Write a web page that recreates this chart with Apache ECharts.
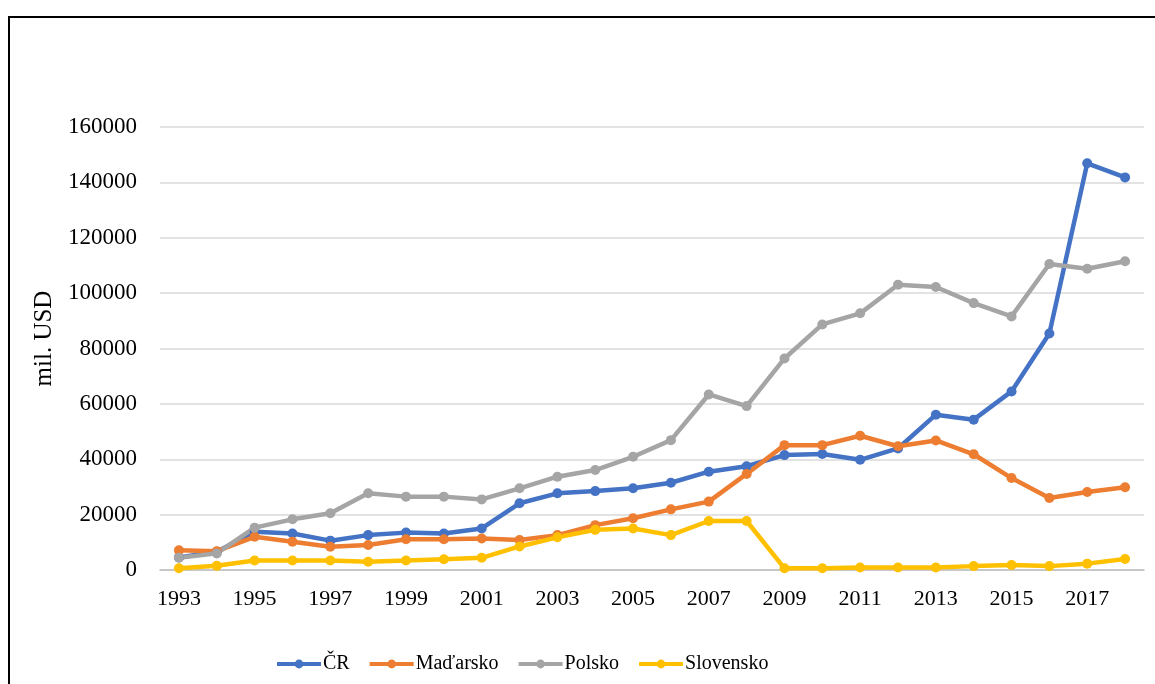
<!DOCTYPE html>
<html>
<head>
<meta charset="utf-8">
<script src="https://cdn.jsdelivr.net/npm/echarts@6/dist/echarts.min.js"></script>
<style>
  html, body { margin: 0; padding: 0; background: #fff; overflow: hidden; }
  .frame { position: absolute; left: 8px; top: 16px; width: 1300px; height: 800px; border: 2px solid #000; box-sizing: border-box; }
  #chart { position: absolute; left: 0; top: 0; width: 1155px; height: 684px; }
</style>
</head>
<body>
<div class="frame"></div>
<div id="chart"></div>
<script>
var years = ['1993','1994','1995','1996','1997','1998','1999','2000','2001','2002','2003','2004','2005',
  '2006','2007','2008','2009','2010','2011','2012','2013','2014','2015','2016','2017','2018'];
var cr = [4500, 6600, 13800, 13200, 10600, 12600, 13500, 13200, 15000, 24100, 27700, 28500, 29500,
  31500, 35500, 37500, 41500, 41900, 39800, 43900, 56100, 54300, 64500, 85400, 146900, 141800];
var madarsko = [7100, 6800, 12000, 10200, 8400, 9000, 11100, 11100, 11400, 10800, 12600, 16200, 18700,
  21900, 24700, 34700, 45100, 45100, 48500, 44700, 46800, 41800, 33200, 26000, 28200, 29900];
var polsko = [4400, 6000, 15300, 18300, 20500, 27700, 26500, 26500, 25500, 29500, 33700, 36100, 40900,
  46900, 63400, 59200, 76400, 88700, 92700, 103000, 102200, 96400, 91600, 110500, 108800, 111500];
var slovensko = [600, 1500, 3400, 3400, 3400, 3000, 3400, 3900, 4400, 8500, 11800, 14500, 15000,
  12600, 17700, 17700, 600, 600, 900, 900, 900, 1400, 1800, 1400, 2300, 4000];

var font = '"Liberation Serif", "DejaVu Serif", serif';

function mkSeries(name, data, color) {
  return {
    name: name,
    type: 'line',
    data: data,
    symbol: 'circle',
    symbolSize: 10,
    itemStyle: { color: color },
    lineStyle: { color: color, width: 4.5 },
    emphasis: { disabled: true }
  };
}

var chart = echarts.init(document.getElementById('chart'));
var option = {
  animation: false,
  grid: { left: 160, right: 11, top: 127, bottom: 114 },
  legend: {
    left: 275,
    top: 654,
    padding: 0,
    itemWidth: 44,
    itemHeight: 11,
    itemGap: 18,
    lineStyle: { width: 4 },
    textStyle: { fontFamily: font, fontSize: 20, color: '#000', padding: [0, 0, 0, -3] },
    data: ['ČR', 'Maďarsko', 'Polsko', 'Slovensko']
  },
  xAxis: {
    type: 'category',
    data: years,
    boundaryGap: true,
    axisTick: { show: false },
    axisLine: { lineStyle: { color: '#bfbfbf', width: 1.5 } },
    axisLabel: { interval: 1, margin: 18, fontFamily: font, fontSize: 22, color: '#000' }
  },
  yAxis: {
    type: 'value',
    min: 0,
    max: 160000,
    interval: 20000,
    name: 'mil. USD',
    nameLocation: 'middle',
    nameRotate: 90,
    nameGap: 102,
    nameTextStyle: { fontFamily: font, fontSize: 25, color: '#000', padding: [0, 0, 0, 20] },
    axisLine: { show: false },
    axisTick: { show: false },
    axisLabel: {
      margin: 23, fontFamily: font, fontSize: 23, color: '#000',
      formatter: function (v) { return String(v); }
    },
    splitLine: { lineStyle: { color: '#d9d9d9', width: 1.5 } }
  },
  series: [
    mkSeries('ČR', cr, '#4472C4'),
    mkSeries('Maďarsko', madarsko, '#ED7D31'),
    mkSeries('Polsko', polsko, '#A5A5A5'),
    mkSeries('Slovensko', slovensko, '#FFC000')
  ]
};
chart.setOption(option);
</script>
</body>
</html>
